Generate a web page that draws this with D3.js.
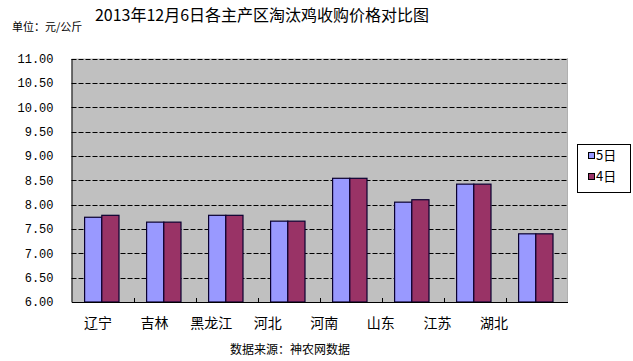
<!DOCTYPE html>
<html><head><meta charset="utf-8">
<script src="https://cdn.jsdelivr.net/npm/d3@7"></script>
<style>body{margin:0;background:#fff}svg{display:block}</style>
</head><body>
<svg id="c" width="633" height="361"></svg>
<script>
const categories = ["辽宁","吉林","黑龙江","河北","河南","山东","江苏","湖北"];
const series = ["5日","4日"];
const values5 = [7.74,7.64,7.78,7.66,8.54,8.05,8.42,7.40];
const values4 = [7.78,7.64,7.78,7.66,8.54,8.10,8.42,7.40];
const yTicks = [6,6.5,7,7.5,8,8.5,9,9.5,10,10.5,11];
const colors = ["#9999FF","#993366"];
const titleText = "2013年12月6日各主产区淘汰鸡收购价格对比图";
const unitText = "单位：元/公斤";
const sourceText = "数据来源：神农网数据";

const svg = d3.select("#c");
const L = 71.5, R = 567.5, T = 58.5, B = 302;
const x = d3.scaleBand().domain(categories).range([L, R]).padding(0);
const x1 = d3.scaleBand().domain(series).range([12.6, 47]).padding(0);
const y = d3.scaleLinear().domain([6, 11]).range([B, T]);
const labelX = d3.scalePoint().domain(categories).range([98, 494]);
const cjk = "'Noto Sans CJK SC', sans-serif";

svg.append("rect").attr("x", L).attr("y", T).attr("width", R - L).attr("height", B - T).attr("fill", "#C0C0C0");

// gridlines
svg.append("g").selectAll("line").data(yTicks.slice(1)).join("line")
  .attr("x1", L).attr("x2", R).attr("y1", d => Math.round(y(d)) + 0.5).attr("y2", d => Math.round(y(d)) + 0.5)
  .attr("stroke", "#000").attr("stroke-dasharray", "5,2");

// right dotted border
svg.append("line").attr("x1", R).attr("x2", R).attr("y1", T).attr("y2", B)
  .attr("stroke", "#808080").attr("stroke-dasharray", "1,1");

// bars
const data = categories.map((c, i) => ({c, v: [values5[i], values4[i]]}));
const g = svg.append("g").selectAll("g").data(data).join("g")
  .attr("transform", d => `translate(${x(d.c)},0)`);
g.selectAll("rect").data(d => d.v.map((v, j) => ({s: series[j], v, j}))).join("rect")
  .attr("x", d => x1(d.s) + 0.5).attr("width", x1.bandwidth())
  .attr("y", d => y(d.v)).attr("height", d => B - y(d.v))
  .attr("fill", d => colors[d.j]).attr("stroke", "#0a0030").attr("stroke-width", 1.2);

// y axis
const ya = svg.append("g").attr("transform", `translate(${L},0)`)
  .call(d3.axisLeft(y).tickValues(yTicks).tickFormat(d3.format(".2f")).tickSize(0).tickPadding(18));
ya.select(".domain").attr("stroke", "#000");
ya.selectAll("text").attr("font-family", "'Liberation Mono', monospace").attr("font-size", 12).attr("fill", "#000");

// x axis line with inward ticks at boundaries
const xa = svg.append("g").attr("transform", `translate(0,${B})`)
  .call(d3.axisBottom(x).tickSize(0).tickFormat(""));
xa.select(".domain").attr("stroke", "#000").attr("stroke-width", 1.2);
svg.append("g").selectAll("line").data(categories.slice(1)).join("line")
  .attr("x1", d => Math.round(x(d)) + 0.5).attr("x2", d => Math.round(x(d)) + 0.5)
  .attr("y1", B).attr("y2", B - 4).attr("stroke", "#000");

// x labels
svg.append("g").selectAll("text").data(categories).join("text")
  .attr("x", d => labelX(d)).attr("y", 328).attr("text-anchor", "middle")
  .attr("font-family", cjk).attr("font-size", 14).attr("fill", "#000").text(d => d);

// title
svg.append("text").attr("x", 262).attr("y", 21).attr("text-anchor", "middle")
  .attr("font-family", cjk).attr("font-size", 16).attr("fill", "#000").text(titleText);
svg.append("text").attr("x", 12).attr("y", 31)
  .attr("font-family", cjk).attr("font-size", 11).attr("fill", "#000").text(unitText);
svg.append("text").attr("x", 290).attr("y", 354).attr("text-anchor", "middle")
  .attr("font-family", cjk).attr("font-size", 12).attr("fill", "#000").text(sourceText);

// legend
const lg = svg.append("g");
lg.append("rect").attr("x", 577.5).attr("y", 144.5).attr("width", 53).attr("height", 48)
  .attr("fill", "#fff").attr("stroke", "#000");
const li = lg.selectAll("g").data(series).join("g")
  .attr("transform", (d, i) => `translate(588,${152 + i * 21})`);
li.append("rect").attr("x", 0.5).attr("y", 0.5).attr("width", 6).attr("height", 6)
  .attr("fill", (d, i) => colors[i]).attr("stroke", "#000");
li.append("text").attr("x", 8).attr("y", 8).attr("font-family", cjk).attr("font-size", 13)
  .attr("fill", "#000").text(d => d);
</script>
</body></html>
